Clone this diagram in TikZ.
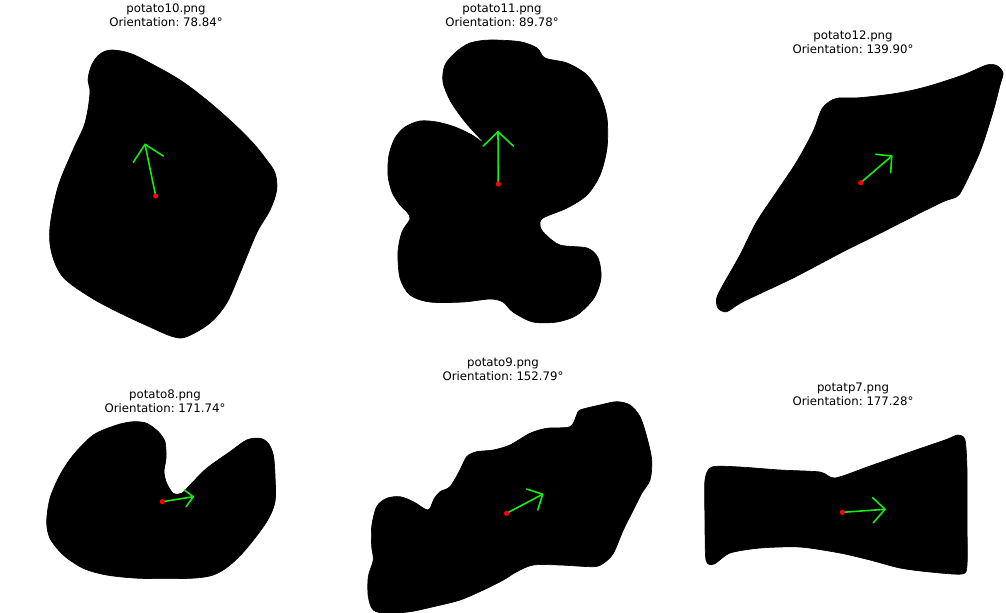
\documentclass[tikz,border=0pt]{standalone}
\usepackage{fontspec}
\setmainfont{DejaVu Sans}
\frenchspacing
\begin{document}
\begin{tikzpicture}[x=0.75pt,y=-0.75pt,
  blob/.style={fill=black,draw=black,line width=0.5pt},
  orient/.style={draw={rgb,255:red,20;green,235;blue,20},line width=1.2pt,line cap=round,line join=round},
  centre/.style={fill=red,draw=none},
  ttl/.style={font=\fontsize{8.8}{10.5}\selectfont,align=center,inner sep=0pt}]
\useasboundingbox (0,0) rectangle (1006,612);
\fill[white] (0,0) rectangle (1006,612);

% potato10
\filldraw[blob] plot[smooth cycle,tension=0.55] coordinates{
(111.7,50) (130,53.3) (150,63) (180,80) (206.7,100) (233,123) (253,143) (266.7,160) (275,173) (276.7,190)
(270,210) (256.7,233) (240,273) (226.7,303) (210,323) (186.7,336.7) (173,336.7) (150,327) (120,313) (90,297)
(63,277) (51.7,253) (50,227) (58,187) (73,150) (85,123) (90,93) (88,80) (91.7,65) (100,54)};
\node[ttl] (t10) at (166,15) {potato10.png\\Orientation: 78.84°};
\coordinate (c10) at (155.7,196);
\coordinate (h10) at (145,144.3);
\coordinate (l10) at (133.3,162.3);
\coordinate (r10) at (163.3,156);
\draw[orient] (c10) -- (h10);
\draw[orient] (l10) -- (h10) -- (r10);
\fill[centre] (c10) circle (2.6);

% potato11
\filldraw[blob] plot[smooth cycle,tension=0.5] coordinates{
(470,43) (490,40) (520,41.7) (537,48) (545,58) (567,63) (587,75) (600,95) (607,118) (607,148) (600,175)
(587,195) (567,208) (543,218) (540,226) (545,234) (560,245) (587,248) (598,258) (601,278) (594,298) (577,315)
(557,322) (533,322) (513,312) (503,302) (490,299) (463,302) (430,302) (410,295) (400,278) (398,252) (402,232)
(410,219) (407,212) (400,205) (392,192) (388,175) (389,155) (395,138) (405,127) (420,121) (437,122) (455,127)
(472,135) (484,143) (466,123) (451,102) (443,82) (445,65) (456,52)};
\node[ttl] (t11) at (502,15) {potato11.png\\Orientation: 89.78°};
\coordinate (c11) at (498.3,184);
\coordinate (h11) at (498,131.7);
\coordinate (l11) at (483.3,146);
\coordinate (r11) at (513.3,146);
\draw[orient] (c11) -- (h11);
\draw[orient] (l11) -- (h11) -- (r11);
\fill[centre] (c11) circle (2.6);

% potato12
\filldraw[blob] plot[smooth cycle,tension=0.5] coordinates{
(825,105) (836.7,98.3) (860,97.7) (896.7,93.3) (926.7,86.7) (963,75) (986.7,65) (996.7,65.5) (1003,73) (1000,85)
(993,111.7) (980,151.7) (963,188) (956.7,196.7) (943,201.7) (910,218) (876.7,235) (843,251.7) (793,278)
(743,301.7) (726.7,311.7) (718,308) (716.7,298) (723,285) (740,255) (756.7,221.7) (776.7,191.7) (796.7,161.7)
(813,131.7) (820,113)};
\node[ttl] (t12) at (853,42) {potato12.png\\Orientation: 139.90°};
\coordinate (c12) at (860.7,182.7);
\coordinate (h12) at (891.7,156);
\coordinate (l12) at (875.7,154.3);
\coordinate (r12) at (890.7,172.7);
\draw[orient] (c12) -- (h12);
\draw[orient] (l12) -- (h12) -- (r12);
\fill[centre] (c12) circle (2.6);

% potato8
\filldraw[blob] plot[smooth cycle,tension=0.5] coordinates{
(116.7,425) (133.3,421.7) (146.7,423.3) (158.3,431.7) (165,441.7) (166,458) (164,471.7) (166.7,483.3)
(173.3,493.3) (181.7,493.3) (190,485) (206.7,468.3) (230,451.7) (246.7,440) (260,438.3) (268.3,443.3)
(273.3,455) (275,475) (275,501.7) (266.7,521.7) (246.7,548.3) (230,565) (213.3,575) (190,578.3) (140,578.3)
(106.7,575) (83.3,568.3) (63.3,555) (50,538.3) (46.7,521.7) (50,498.3) (60,475) (73.3,455) (93.3,435)};
\node[ttl] (t8) at (165,401) {potato8.png\\Orientation: 171.74°};
\coordinate (c8) at (162.3,501.7);
\coordinate (h8) at (193.3,496.7);
\coordinate (l8) at (184.3,490);
\coordinate (r8) at (186,506.7);
\draw[orient] (c8) -- (h8);
\draw[orient] (l8) -- (h8) -- (r8);
\fill[centre] (c8) circle (2.6);

% potato9
\filldraw[blob] plot[smooth cycle,tension=0.5] coordinates{
(580,410) (600,405) (616.7,401.7) (630,405) (640,416.7) (646.7,436.7) (651.7,460) (650,480) (641.7,493.3)
(633.3,510) (623.3,530) (613.3,553.3) (603.3,563.3) (593.3,566.7) (560,565) (533.3,565) (516.7,571.7)
(503.3,580) (483.3,590) (460,600) (433.3,606.7) (410,611.7) (386.7,613.3) (373.3,610) (368.3,596.7)
(368.3,576.7) (373.3,560) (371.7,546.7) (371.7,526.7) (376.7,506.7) (386.7,498.3) (400,496.7) (413.3,501.7)
(428,510) (434,499) (440,491.7) (450,486.7) (460,470) (466.7,456.7) (476.7,451.7) (493.3,450) (510,445)
(530,433.3) (546.7,428.3) (570,426.7) (576.7,415)};
\node[ttl] (t9) at (503,369.5) {potato9.png\\Orientation: 152.79°};
\coordinate (c9) at (506.5,513.3);
\coordinate (h9) at (542.7,494.2);
\coordinate (l9) at (526.7,489);
\coordinate (r9) at (537.7,510);
\draw[orient] (c9) -- (h9);
\draw[orient] (l9) -- (h9) -- (r9);
\fill[centre] (c9) circle (2.6);

% potatp7
\filldraw[blob] plot[smooth cycle,tension=0.45] coordinates{
(712,467) (740,467) (780,470) (820,472) (835,478) (870,466) (910,452) (945,440) (958,435) (965,440)
(967,470) (967,520) (967,565) (962,574) (930,572) (900,568) (870,560) (840,553) (800,547) (760,548)
(730,553) (714,564) (706,560) (705,520) (705,480)};
\node[ttl] (t7) at (853,394) {potatp7.png\\Orientation: 177.28°};
\coordinate (c7) at (842.3,512.3);
\coordinate (h7) at (885,509.3);
\coordinate (l7) at (872.7,497.7);
\coordinate (r7) at (873.3,522.7);
\draw[orient] (c7) -- (h7);
\draw[orient] (l7) -- (h7) -- (r7);
\fill[centre] (c7) circle (2.6);
\end{tikzpicture}
\end{document}
